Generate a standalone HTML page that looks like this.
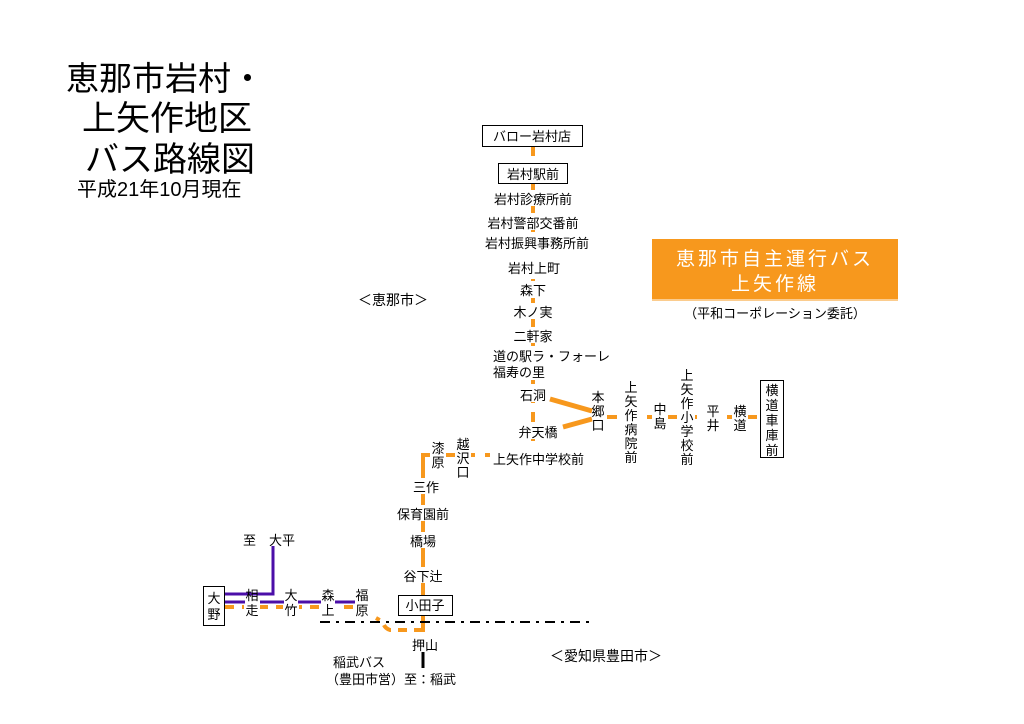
<!DOCTYPE html>
<html><head><meta charset="utf-8"><style>
html,body{margin:0;padding:0;background:#fff;}
svg{display:block;}
text{font-family:"Liberation Sans","Noto Sans CJK JP",sans-serif;fill:#000;}
.s{font-size:13px;}
</style></head><body>
<svg width="1024" height="724" viewBox="0 0 1024 724" xmlns="http://www.w3.org/2000/svg">
<rect width="1024" height="724" fill="#fff"/>
<!-- title -->
<text x="66" y="90" font-size="33">恵那市岩村・</text>
<text x="82" y="130" font-size="34">上矢作地区</text>
<text x="85" y="171" font-size="34">バス路線図</text>
<text x="77" y="196" font-size="20">平成21年10月現在</text>

<!-- orange box -->
<rect x="652" y="239" width="246" height="62" fill="#F7981D"/>
<line x1="652" y1="300" x2="898" y2="300" stroke="#fff" stroke-width="1"/>
<text x="775" y="265" font-size="19" text-anchor="middle" style="fill:#fff" letter-spacing="3">恵那市自主運行バス</text>
<text x="775" y="290" font-size="19" text-anchor="middle" style="fill:#fff" letter-spacing="3">上矢作線</text>
<text x="775" y="318" class="s" text-anchor="middle" font-size="14">（平和コーポレーション委託）</text>

<text x="358" y="305" font-size="14">＜恵那市＞</text>
<text x="550" y="661" font-size="14">＜愛知県豊田市＞</text>

<!-- orange trunk -->
<g stroke="#F7981D" stroke-width="4" fill="none">
<line x1="533" y1="146" x2="533" y2="460" stroke-dasharray="10,9"/>
<line x1="550" y1="399" x2="592" y2="411" stroke-width="5"/>
<line x1="563" y1="427" x2="592" y2="419" stroke-width="5"/>
<line x1="607" y1="417" x2="760" y2="417" stroke-dasharray="10,10"/>
<line x1="425" y1="455" x2="490" y2="455" stroke-dasharray="10,10"/>
<polyline points="423,630 423,455 430,455"/>
<line x1="423" y1="615" x2="423" y2="632"/>
<path d="M423,630 L390,630 Q384,628 383,622 L376,618" stroke-dasharray="9,7"/>
<line x1="225" y1="607" x2="372" y2="607" stroke-dasharray="9,8"/>
</g>
<!-- white backgrounds for labels on trunk -->
<g fill="#fff">
<rect x="488" y="190" width="90" height="16"/><rect x="488" y="214" width="100" height="16"/>
<rect x="482" y="235" width="112" height="16"/><rect x="505" y="259" width="58" height="16"/>
<rect x="517" y="281" width="32" height="16"/><rect x="511" y="303" width="44" height="16"/>
<rect x="511" y="327" width="44" height="16"/><rect x="490" y="346" width="130" height="34"/>
<rect x="517" y="386" width="32" height="16"/><rect x="516" y="423" width="46" height="16"/>
<rect x="490" y="449" width="100" height="16"/>
<rect x="413" y="478" width="30" height="16"/><rect x="393" y="505" width="60" height="16"/>
<rect x="407" y="532" width="32" height="16"/><rect x="399" y="567" width="46" height="16"/>
<rect x="623" y="378" width="16" height="86"/><rect x="652" y="400" width="16" height="32"/>
<rect x="679" y="366" width="16" height="98"/><rect x="705" y="402" width="16" height="32"/>
<rect x="732" y="402" width="16" height="32"/>
<rect x="430" y="438" width="16" height="32"/><rect x="455" y="434" width="16" height="46"/>
<rect x="244" y="590" width="16" height="30"/><rect x="283" y="590" width="16" height="30"/>
<rect x="320" y="590" width="16" height="30"/><rect x="354" y="590" width="16" height="30"/>
</g>
<!-- purple -->
<g stroke="#4B0FA8" stroke-width="3" fill="none">
<polyline points="225,594 273,594 273,546"/>
<line x1="225" y1="602" x2="245" y2="602"/>
<line x1="260" y1="602" x2="284" y2="602"/>
<line x1="298" y1="602" x2="321" y2="602"/>
<line x1="335" y1="602" x2="355" y2="602"/>
</g>
<!-- black -->
<line x1="320" y1="622" x2="590" y2="622" stroke="#000" stroke-width="2" stroke-dasharray="10,6,3,6"/>
<line x1="423" y1="652" x2="423" y2="668" stroke="#000" stroke-width="3"/>

<!-- boxes -->
<g fill="#fff" stroke="#000" stroke-width="1">
<rect x="482.5" y="125.5" width="100" height="21"/>
<rect x="498.5" y="163.5" width="69" height="20"/>
<rect x="760.5" y="380.5" width="23" height="77"/>
<rect x="398.5" y="595.5" width="54" height="20"/>
<rect x="203.5" y="586.5" width="21" height="39"/>
</g>
<g class="s" text-anchor="middle">
<text x="532" y="141">バロー岩村店</text>
<text x="533" y="179">岩村駅前</text>
<text x="533" y="204">岩村診療所前</text>
<text x="533" y="228">岩村警部交番前</text>
<text x="537" y="248">岩村振興事務所前</text>
<text x="534" y="273">岩村上町</text>
<text x="533" y="295">森下</text>
<text x="533" y="317">木ノ実</text>
<text x="533" y="341">二軒家</text>
<text x="533" y="400">石洞</text>
<text x="538" y="437">弁天橋</text>
<text x="426" y="492">三作</text>
<text x="423" y="519">保育園前</text>
<text x="423" y="546">橋場</text>
<text x="423" y="581">谷下辻</text>
<text x="425" y="610">小田子</text>
<text x="425" y="650">押山</text>
<text x="269" y="545">至　大平</text>
<text x="359" y="667">稲武バス</text>
<text x="391" y="684">（豊田市営）至：稲武</text>
</g>
<g class="s">
<text x="493" y="361">道の駅ラ・フォーレ</text>
<text x="493" y="377">福寿の里</text>
<text x="493" y="464">上矢作中学校前</text>
</g>
<!-- vertical labels -->
<g class="s" text-anchor="middle">
<text x="598" y="402">本</text><text x="598" y="416">郷</text><text x="598" y="430">口</text>
<text x="631" y="392">上</text><text x="631" y="406">矢</text><text x="631" y="420">作</text><text x="631" y="434">病</text><text x="631" y="448">院</text><text x="631" y="462">前</text>
<text x="660" y="414">中</text><text x="660" y="428">島</text>
<text x="687" y="380">上</text><text x="687" y="394">矢</text><text x="687" y="408">作</text><text x="687" y="422">小</text><text x="687" y="436">学</text><text x="687" y="450">校</text><text x="687" y="464">前</text>
<text x="713" y="416">平</text><text x="713" y="430">井</text>
<text x="740" y="416">横</text><text x="740" y="430">道</text>
<text x="772" y="395">横</text><text x="772" y="410">道</text><text x="772" y="425">車</text><text x="772" y="440">庫</text><text x="772" y="455">前</text>
<text x="438" y="453">漆</text><text x="438" y="467">原</text>
<text x="463" y="449">越</text><text x="463" y="463">沢</text><text x="463" y="477">口</text>
<text x="214" y="603">大</text><text x="214" y="619">野</text>
<text x="252" y="600">相</text><text x="252" y="615">走</text>
<text x="291" y="600">大</text><text x="291" y="615">竹</text>
<text x="328" y="600">森</text><text x="328" y="615">上</text>
<text x="362" y="600">福</text><text x="362" y="615">原</text>
</g>
</svg>
</body></html>
